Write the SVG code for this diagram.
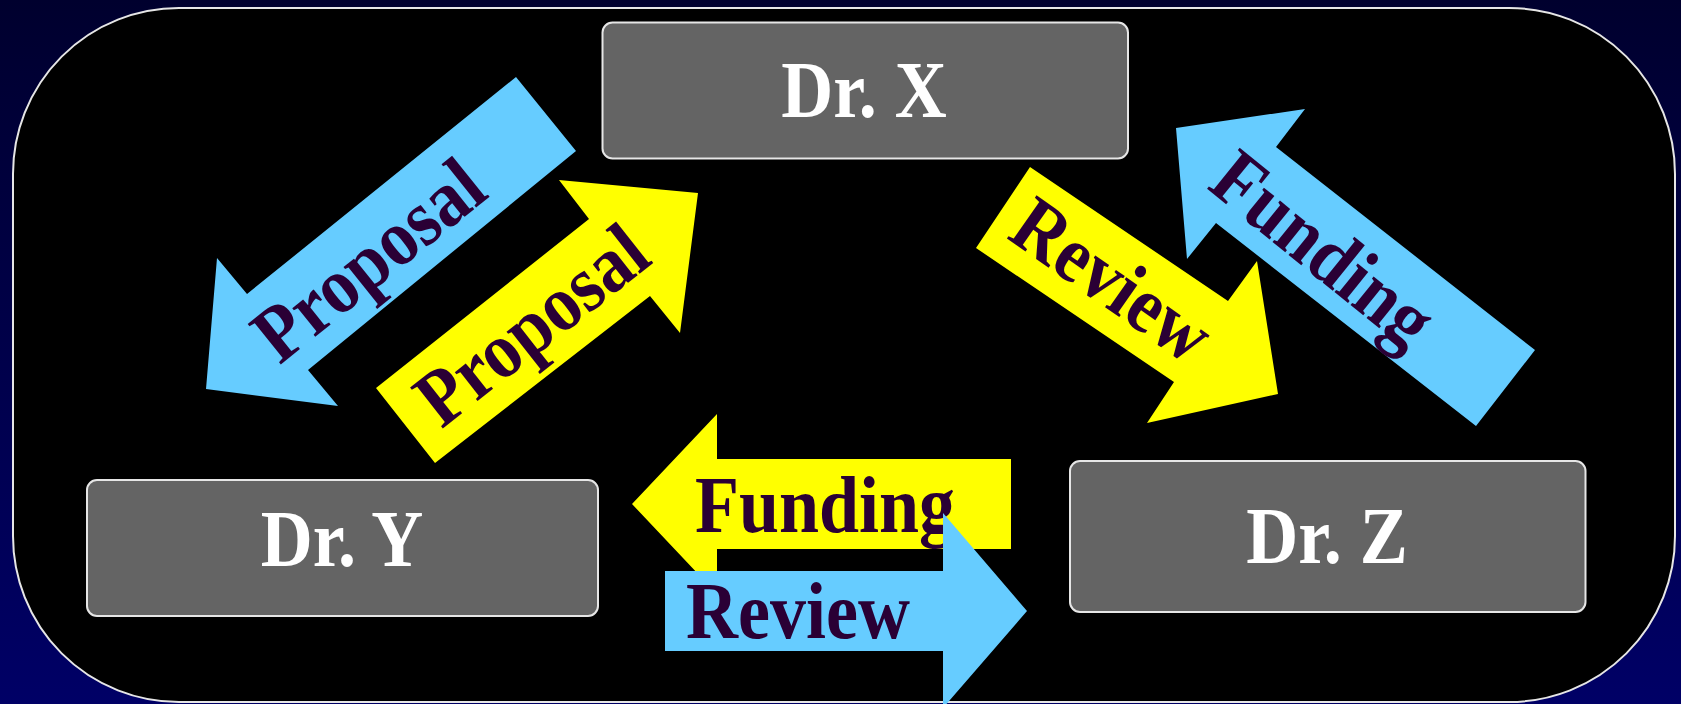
<svg xmlns="http://www.w3.org/2000/svg" width="1681" height="704" viewBox="0 0 1681 704">
<defs>
<linearGradient id="bg" x1="0" y1="0" x2="0" y2="1">
<stop offset="0" stop-color="#00002e"/>
<stop offset="1" stop-color="#000066"/>
</linearGradient>
<style>
.box{fill:#646464;stroke:#e6e6e6;stroke-width:2}
.name{font-family:"Liberation Serif","Times New Roman",serif;font-weight:bold;font-size:80px;fill:#ffffff;text-anchor:middle}
.lbl{font-family:"Liberation Serif","Times New Roman",serif;font-weight:bold;font-size:80px;fill:#2a0035}
.blue{fill:#66ccff}
.yellow{fill:#ffff00}
</style>
</defs>
<rect x="0" y="0" width="1681" height="704" fill="url(#bg)"/>
<rect x="13" y="8" width="1662" height="694" rx="166" ry="166" fill="#000000" stroke="#e6e6e6" stroke-width="2"/>

<g id="connectors">
<g id="proposal-x-to-y">
<polygon class="blue" points="516,77 576,151 308,370 338,406 206,389 217,258 247,294"/>
<text class="lbl" text-anchor="middle" transform="translate(370,262) rotate(-38.8) scale(0.9,1)" x="0" y="24">Proposal</text>
</g>
<g id="proposal-y-to-x">
<polygon class="yellow" points="376,388 589,219 559,180 698,193 680,333 650,296 435,463"/>
<text class="lbl" text-anchor="middle" transform="translate(533,327) rotate(-38.2) scale(0.9,1)" x="0" y="24">Proposal</text>
</g>
<g id="review-x-to-z">
<polygon class="yellow" points="1030,167 1228,301 1257,261 1278,394 1147,423 1174,382 976,248"/>
<text class="lbl" text-anchor="middle" transform="translate(1111,282) rotate(35) scale(0.9,1)" x="0" y="24">Review</text>
</g>
<g id="funding-z-to-x">
<polygon class="blue" points="1176,128 1305,109 1276,147 1535,350 1476,426 1216,223 1187,259"/>
<text class="lbl" text-anchor="middle" transform="translate(1322,251) rotate(39) scale(0.9,1)" x="0" y="24">Funding</text>
</g>
<g id="funding-z-to-y">
<polygon class="yellow" points="632,504 717,414 717,459 1011,459 1011,549 717,549 717,594"/>
<text class="lbl" transform="translate(695,532) scale(0.9,1)" x="0" y="0">Funding</text>
</g>
<g id="review-y-to-z">
<polygon class="blue" points="665,571 943,571 943,513 1027,611 943,708 943,651 665,651"/>
<text class="lbl" transform="translate(686,638) scale(0.9,1)" x="0" y="0">Review</text>
</g>
</g>

<g id="dr-x">
<rect class="box" x="602.5" y="22.5" width="525.5" height="136" rx="10"/>
<text class="name" transform="translate(864,117) scale(0.9,1)" x="0" y="0">Dr. X</text>
</g>
<g id="dr-y">
<rect class="box" x="87" y="480" width="511" height="136" rx="10"/>
<text class="name" transform="translate(342,566) scale(0.9,1)" x="0" y="0">Dr. Y</text>
</g>
<g id="dr-z">
<rect class="box" x="1070" y="461" width="515.5" height="151" rx="10"/>
<text class="name" transform="translate(1327,563) scale(0.9,1)" x="0" y="0">Dr. Z</text>
</g>
</svg>
